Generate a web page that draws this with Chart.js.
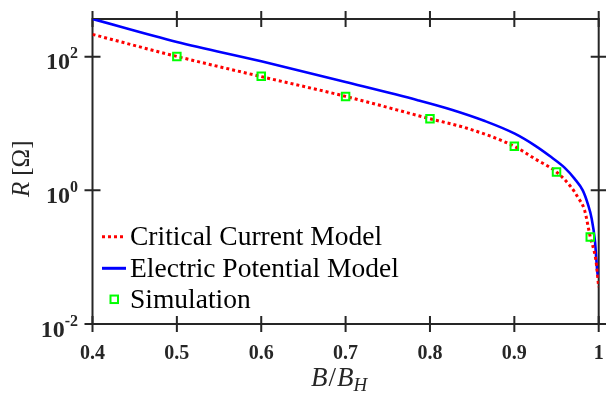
<!DOCTYPE html>
<html>
<head>
<meta charset="utf-8">
<script src="https://cdn.jsdelivr.net/npm/chart.js@4"></script>
<style>
  html, body { margin: 0; padding: 0; background: #fff; }
  #wrap { width: 606px; height: 394px; position: relative; }
</style>
</head>
<body>
<div id="wrap"><canvas id="myChart" width="606" height="394"></canvas></div>
<script>
// datos
const xTicks = [0.4, 0.5, 0.6, 0.7, 0.8, 0.9, 1];
const yTickExp = [-2, 0, 2];

const critB = [0.4, 0.5, 0.6, 0.7, 0.8, 0.8454, 0.9, 0.9241, 0.95, 0.9673, 0.9752, 0.9833, 0.99, 0.9967, 1.0];
const critR = [216, 101, 50.4, 25.5, 11.8, 8.39, 4.56, 2.98, 1.88, 1.12, 0.79, 0.502, 0.2, 0.0895, 0.0357];

const elecB = [0.4, 0.5, 0.6, 0.7, 0.7864, 0.8257, 0.8651, 0.9005, 0.9241, 0.9437, 0.9595, 0.9713, 0.9811, 0.987, 0.9917, 0.9955, 0.9986, 1.0];
const elecR = [367, 166, 85.3, 41.8, 22.2, 16.1, 10.9, 7.06, 4.72, 3.15, 2.19, 1.5, 1.0, 0.632, 0.377, 0.178, 0.057, 0.05];

const simB = [0.5, 0.6, 0.7, 0.8, 0.9, 0.95, 0.99];
const simR = [101, 51, 25.5, 11.8, 4.56, 1.88, 0.2];

const legendLabels = ['Critical Current Model', 'Electric Potential Model', 'Simulation'];

function pts(xs, ys) {
    return xs.map((x, i) => ({ x: x, y: ys[i] }));
}

const axisColor = '#262626';

const decoPlugin = {
    id: 'deco',
    beforeDatasetsDraw(chart) {
        const ctx = chart.ctx;
        const a = chart.chartArea;
        const xs = chart.scales.x, ys = chart.scales.y;
        ctx.save();
        ctx.strokeStyle = axisColor;
        ctx.lineWidth = 2;
        ctx.strokeRect(a.left, a.top, a.right - a.left, a.bottom - a.top);
        ctx.beginPath();
        xTicks.forEach(v => {
            const px = xs.getPixelForValue(v);
            ctx.moveTo(px, a.bottom - 8); ctx.lineTo(px, a.bottom + 8);
            ctx.moveTo(px, a.top - 8); ctx.lineTo(px, a.top + 8);
        });
        yTickExp.forEach(e => {
            const py = ys.getPixelForValue(Math.pow(10, e));
            ctx.moveTo(a.left - 8, py); ctx.lineTo(a.left + 8, py);
            ctx.moveTo(a.right - 8, py); ctx.lineTo(a.right + 8, py);
        });
        ctx.stroke();
        ctx.restore();
    },
    afterDraw(chart) {
        const ctx = chart.ctx;
        const xs = chart.scales.x, ys = chart.scales.y;
        ctx.save();
        ctx.fillStyle = '#262626';

        // etiquetas eje x
        ctx.font = 'bold 20px "Liberation Serif"';
        ctx.textAlign = 'center';
        ctx.textBaseline = 'alphabetic';
        xTicks.forEach(v => {
            ctx.fillText(String(v), xs.getPixelForValue(v), 358.5);
        });

        // etiquetas eje y (10^n)
        yTickExp.forEach(e => {
            const py = ys.getPixelForValue(Math.pow(10, e));
            ctx.font = 'bold 16px "Liberation Serif"';
            ctx.textAlign = 'right';
            const sup = String(e);
            ctx.fillText(sup, 78, py + 1.5);
            const w = ctx.measureText(sup).width;
            ctx.font = 'bold 24px "Liberation Serif"';
            ctx.fillText('10', 78 - w, py + 12.5);
        });

        // titulos
        ctx.textAlign = 'left';
        ctx.font = 'italic 27px "Liberation Serif"';
        let x0 = 311;
        ctx.fillText('B', x0, 386);
        x0 += ctx.measureText('B').width + 1;
        ctx.font = '27px "Liberation Serif"';
        ctx.fillText('/', x0, 386);
        x0 += ctx.measureText('/').width + 1;
        ctx.font = 'italic 27px "Liberation Serif"';
        ctx.fillText('B', x0, 386);
        x0 += ctx.measureText('B').width;
        ctx.font = 'italic 19px "Liberation Serif"';
        ctx.fillText('H', x0, 391);

        ctx.save();
        ctx.translate(29, 197);
        ctx.rotate(-Math.PI / 2);
        ctx.font = 'italic 25px "Liberation Serif"';
        ctx.fillText('R', 0, 0);
        let w = ctx.measureText('R').width + 6;
        ctx.font = '25px "Liberation Serif"';
        ctx.fillText('[Ω]', w, 0);
        ctx.restore();

        // leyenda
        const rows = [236.7, 268.3, 299.3];
        ctx.font = '27.5px "Liberation Serif"';
        ctx.fillStyle = '#000';
        ctx.textBaseline = 'middle';
        legendLabels.forEach((t, i) => ctx.fillText(t, 130, rows[i] + 1));

        ctx.lineWidth = 3;
        ctx.strokeStyle = '#ff0000';
        ctx.setLineDash([3, 3]);
        ctx.beginPath(); ctx.moveTo(102, rows[0]); ctx.lineTo(126, rows[0]); ctx.stroke();
        ctx.setLineDash([]);
        ctx.strokeStyle = '#0000ff';
        ctx.beginPath(); ctx.moveTo(102, rows[1]); ctx.lineTo(126, rows[1]); ctx.stroke();
        ctx.strokeStyle = '#00ff00';
        ctx.lineWidth = 2;
        ctx.strokeRect(110.5, rows[2] - 3.75, 7.5, 7.5);
        ctx.restore();
    }
};

const ctx = document.getElementById('myChart').getContext('2d');
const myChart = new Chart(ctx, {
    type: 'line',
    data: {
        datasets: [{
            label: legendLabels[0],
            data: pts(critB, critR),
            borderColor: '#ff0000',
            borderWidth: 3,
            borderDash: [3, 3],
            borderCapStyle: 'butt',
            pointRadius: 0,
            cubicInterpolationMode: 'monotone',
            fill: false,
            order: 2
        }, {
            label: legendLabels[1],
            data: pts(elecB, elecR),
            borderColor: '#0000ff',
            borderWidth: 2.6,
            pointRadius: 0,
            cubicInterpolationMode: 'monotone',
            fill: false,
            order: 3
        }, {
            label: legendLabels[2],
            data: pts(simB, simR),
            showLine: false,
            pointStyle: 'rect',
            pointRadius: 5.3,
            pointBorderWidth: 2,
            pointBorderColor: '#00ff00',
            pointBackgroundColor: 'rgba(0,0,0,0)',
            order: 1
        }]
    },
    options: {
        responsive: false,
        animation: false,
        layout: { padding: { top: 19, right: 5, left: 0, bottom: 0 } },
        plugins: {
            legend: { display: false },
            tooltip: { enabled: false }
        },
        scales: {
            x: {
                type: 'linear',
                min: 0.4,
                max: 1,
                grid: { display: false },
                border: { display: false },
                ticks: { display: false },
                afterFit: s => { s.height = 70; }
            },
            y: {
                type: 'logarithmic',
                min: 0.01,
                max: 367,
                grid: { display: false },
                border: { display: false },
                ticks: { display: false },
                afterFit: s => { s.width = 92.5; }
            }
        }
    },
    plugins: [decoPlugin]
});
</script>
</body>
</html>
